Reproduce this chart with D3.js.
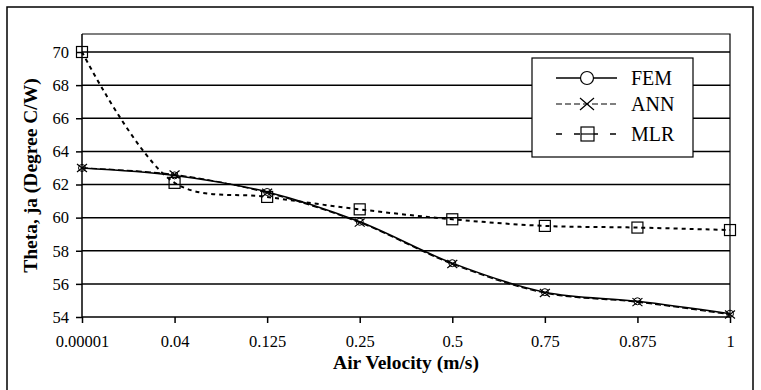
<!DOCTYPE html>
<html>
<head>
<meta charset="utf-8">
<script src="https://cdn.jsdelivr.net/npm/d3@7/dist/d3.min.js"></script>
<style>
  body { margin: 0; background: #fff; }
  svg text { font-family: "Liberation Serif", "Times New Roman", serif; fill: #000; }
</style>
</head>
<body>
<div class="chart"></div>
<script>
// data
var velocities = ["0.00001", "0.04", "0.125", "0.25", "0.5", "0.75", "0.875", "1"];
var femValues = [63.0, 62.55, 61.55, 59.75, 57.25, 55.5, 54.95, 54.2];
var annValues = [63.0, 62.6, 61.5, 59.7, 57.2, 55.45, 54.9, 54.15];
var mlrValues = [70.0, 62.1, 61.25, 60.5, 59.9, 59.5, 59.4, 59.25];
var yTicks = [54, 56, 58, 60, 62, 64, 66, 68, 70];

var svgWidth = 761;
var svgHeight = 390;

var svg = d3.select(".chart")
  .append("svg")
  .attr("width", svgWidth)
  .attr("height", svgHeight);

// outer frame
svg.append("rect")
  .attr("x", 7)
  .attr("y", 7)
  .attr("width", 746)
  .attr("height", 400)
  .attr("fill", "none")
  .attr("stroke", "#000")
  .attr("stroke-width", 1.5);

var plot = { left: 82, right: 730, top: 34, bottom: 317 };

var xScale = d3.scalePoint()
  .domain(velocities)
  .range([plot.left, plot.right]);

var yScale = d3.scaleLinear()
  .domain([54, 70])
  .range([plot.bottom, 52]);

// gridlines
svg.append("g")
  .selectAll("line")
  .data(yTicks.slice(1))
  .enter()
  .append("line")
  .attr("x1", plot.left)
  .attr("x2", plot.right)
  .attr("y1", d => yScale(d))
  .attr("y2", d => yScale(d))
  .attr("stroke", "#000")
  .attr("stroke-width", 1.5);

// plot top and right edges
svg.append("path")
  .attr("d", `M${plot.left},${plot.top}H${plot.right}V${plot.bottom}`)
  .attr("fill", "none")
  .attr("stroke", "#000")
  .attr("stroke-width", 1.2);

var leftAxis = d3.axisLeft(yScale).tickValues(yTicks).tickSize(6).tickPadding(7);
var bottomAxis = d3.axisBottom(xScale).tickSize(6).tickPadding(12);

var yAxisG = svg.append("g")
  .attr("transform", `translate(${plot.left}, 0)`)
  .call(leftAxis);
yAxisG.select(".domain").attr("d", `M0,${plot.top}V${plot.bottom}`);

var xAxisG = svg.append("g")
  .attr("transform", `translate(0, ${plot.bottom})`)
  .call(bottomAxis);
xAxisG.select(".domain").attr("d", `M${plot.left},0H${plot.right}`);

svg.selectAll(".tick text")
  .style("font-size", "16.5px")
  .style("font-family", "'Liberation Serif', serif");
svg.selectAll(".domain, .tick line")
  .attr("stroke", "#000")
  .attr("stroke-width", 1.5);

var curve = d3.curveCatmullRom.alpha(0.5);
var line = d3.line()
  .x((d, i) => xScale(velocities[i]))
  .y(d => yScale(d))
  .curve(curve);

// MLR
svg.append("path")
  .attr("d", line(mlrValues))
  .attr("fill", "none")
  .attr("stroke", "#000")
  .attr("stroke-width", 2)
  .attr("stroke-dasharray", "4,4");

// ANN
svg.append("path")
  .attr("d", line(annValues))
  .attr("fill", "none")
  .attr("stroke", "#000")
  .attr("stroke-width", 1.3)
  .attr("stroke-dasharray", "6,3");

// FEM
svg.append("path")
  .attr("d", line(femValues))
  .attr("fill", "none")
  .attr("stroke", "#000")
  .attr("stroke-width", 1.5);

// markers
svg.selectAll(".mlr-mark")
  .data(mlrValues)
  .enter()
  .append("rect")
  .attr("class", "mlr-mark")
  .attr("x", (d, i) => xScale(velocities[i]) - 5.5)
  .attr("y", d => yScale(d) - 5.5)
  .attr("width", 11)
  .attr("height", 11)
  .attr("fill", "none")
  .attr("stroke", "#000")
  .attr("stroke-width", 1.2);

svg.selectAll(".fem-mark")
  .data(femValues)
  .enter()
  .append("circle")
  .attr("class", "fem-mark")
  .attr("cx", (d, i) => xScale(velocities[i]))
  .attr("cy", d => yScale(d))
  .attr("r", 3.5)
  .attr("fill", "none")
  .attr("stroke", "#000")
  .attr("stroke-width", 1);

var cross = "M-5,-4L5,4M-5,4L5,-4";
svg.selectAll(".ann-mark")
  .data(annValues)
  .enter()
  .append("path")
  .attr("class", "ann-mark")
  .attr("transform", (d, i) => `translate(${xScale(velocities[i])}, ${yScale(d)})`)
  .attr("d", cross)
  .attr("fill", "none")
  .attr("stroke", "#000")
  .attr("stroke-width", 1.2);

// legend
var legend = svg.append("g");
legend.append("rect")
  .attr("x", 532)
  .attr("y", 58)
  .attr("width", 161)
  .attr("height", 99)
  .attr("fill", "#fff")
  .attr("stroke", "#000")
  .attr("stroke-width", 1.2);

var legendItems = [
  { name: "FEM", y: 78, dash: null, width: 1.5 },
  { name: "ANN", y: 104, dash: "6,3", width: 1.2 },
  { name: "MLR", y: 134, dash: "6,12", width: 1.5 }
];

legendItems.forEach(function(item) {
  var ln = legend.append("line")
    .attr("x1", 556)
    .attr("x2", 617)
    .attr("y1", item.y)
    .attr("y2", item.y)
    .attr("stroke", "#000")
    .attr("stroke-width", item.width);
  if (item.dash) ln.attr("stroke-dasharray", item.dash);

  if (item.name == "FEM") {
    legend.append("circle")
      .attr("cx", 587).attr("cy", item.y).attr("r", 6.5)
      .attr("fill", "#fff").attr("stroke", "#000").attr("stroke-width", 1.2);
  } else if (item.name == "ANN") {
    legend.append("path")
      .attr("transform", `translate(587, ${item.y})`)
      .attr("d", "M-7,-6L7,6M-7,6L7,-6")
      .attr("stroke", "#000").attr("stroke-width", 1.2);
  } else {
    legend.append("rect")
      .attr("x", 581).attr("y", item.y - 7).attr("width", 13).attr("height", 14)
      .attr("fill", "#fff").attr("stroke", "#000").attr("stroke-width", 1.2);
    legend.append("line")
      .attr("x1", 581).attr("x2", 594).attr("y1", item.y).attr("y2", item.y)
      .attr("stroke", "#000").attr("stroke-width", 1.2);
  }

  legend.append("text")
    .attr("x", 631)
    .attr("y", item.y + 7)
    .style("font-size", "20px")
    .text(item.name);
});

// axis titles
svg.append("text")
  .attr("transform", `translate(${406}, 369)`)
  .attr("text-anchor", "middle")
  .style("font-size", "19.5px")
  .style("font-weight", "bold")
  .text("Air Velocity (m/s)");

svg.append("text")
  .attr("transform", `translate(37, ${(plot.top + plot.bottom) / 2}) rotate(-90)`)
  .attr("text-anchor", "middle")
  .style("font-size", "19.5px")
  .style("font-weight", "bold")
  .text("Theta, ja (Degree C/W)");
</script>
</body>
</html>
